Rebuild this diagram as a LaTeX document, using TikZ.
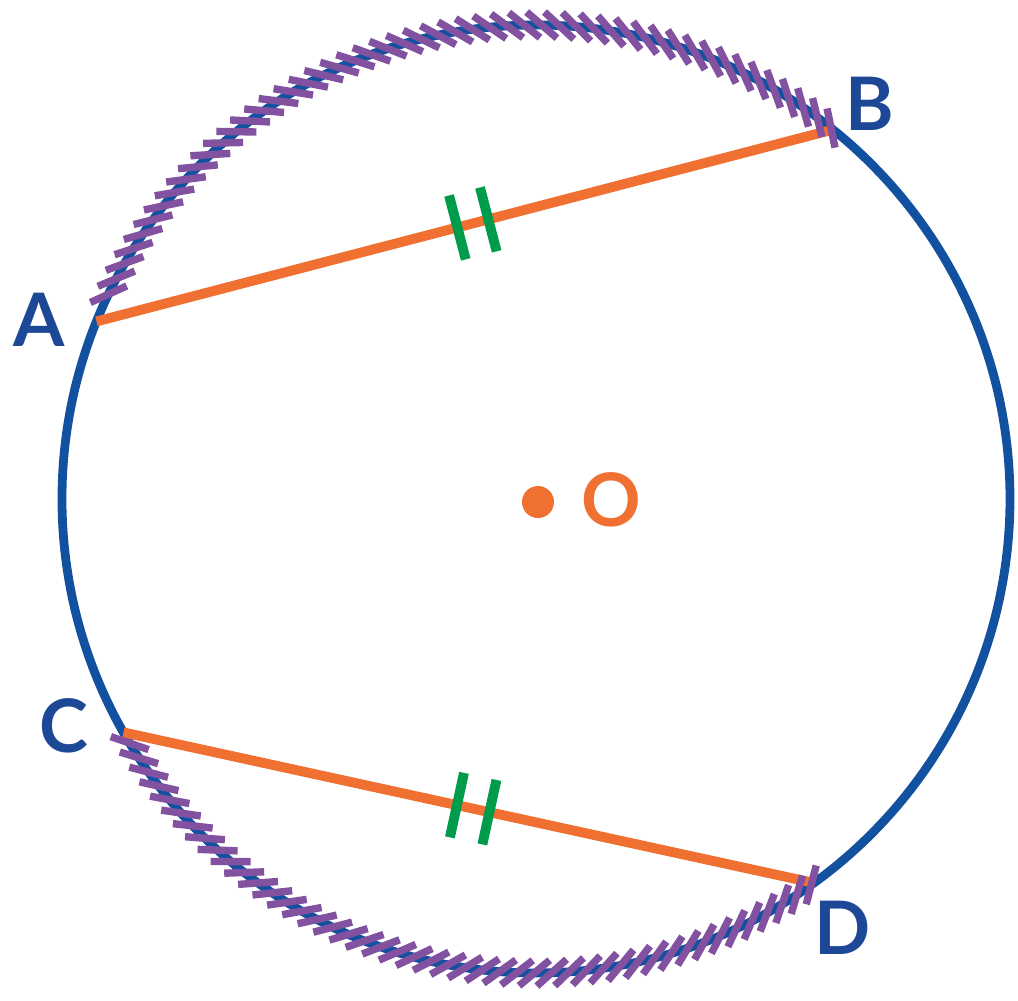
\documentclass[tikz,border=0pt]{standalone}
\usepackage{fontspec}
\setmainfont{Lato}
\usetikzlibrary{calc}
\definecolor{circblue}{RGB}{18,80,160}
\definecolor{labblue}{RGB}{28,72,150}
\definecolor{chordorange}{RGB}{240,112,50}
\definecolor{markgreen}{RGB}{0,155,75}
\definecolor{hatchpurple}{RGB}{130,82,160}

\begin{document}
\begin{tikzpicture}[
    circline/.style={draw=circblue, line width=2.5pt},
    chord/.style={draw=chordorange, line width=2.8pt},
    hatch/.style={draw=hatchpurple, line width=2.1pt},
    eqmark/.style={draw=markgreen, line width=2.8pt},
    ptlabel/.style={text=labblue, font=\fontsize{21}{21}\selectfont\bfseries, inner sep=0pt}]
    \useasboundingbox (-5.36,-5.02) rectangle (4.82,4.99);
    \draw[circline] (0,0) circle (4.74);
    \coordinate (A) at (158:4.74);
    \coordinate (B) at (51.2:4.74);
    \coordinate (C) at (209.5:4.74);
    \coordinate (D) at (305.9:4.74);
    \draw[chord] (A) -- (B);
    \draw[chord] (C) -- (D);
    % hatched arcs
    \foreach \t in {51.5,53.6,...,156}
      \draw[hatch] (\t:4.74) ++(\t+50:0.2) -- ++(\t+230:0.4);
    \foreach \t in {211,213.1,...,306}
      \draw[hatch] (\t:4.74) ++(\t-50:0.2) -- ++(\t+130:0.4);
    % equal marks
    \foreach \p/\q/\f in {A/B/0.49, A/B/0.532, C/D/0.483, C/D/0.53}
      \draw[eqmark] ($(\p)!\f!(\q)!0.33cm!90:(\q)$) -- ($(\p)!\f!(\q)!0.33cm!-90:(\q)$);
    \fill[chordorange] (0.02,-0.03) circle (0.16);
    \node[ptlabel] (labA) at (-4.97,1.79) {A};
    \node[ptlabel] (labB) at (3.34,3.95) {B};
    \node[ptlabel] (labC) at (-4.72,-2.27) {C};
    \node[ptlabel] (labD) at (3.07,-4.29) {D};
    \node[ptlabel, text=chordorange] (labO) at (0.75,-0.01) {O};
  \end{tikzpicture}
\end{document}
